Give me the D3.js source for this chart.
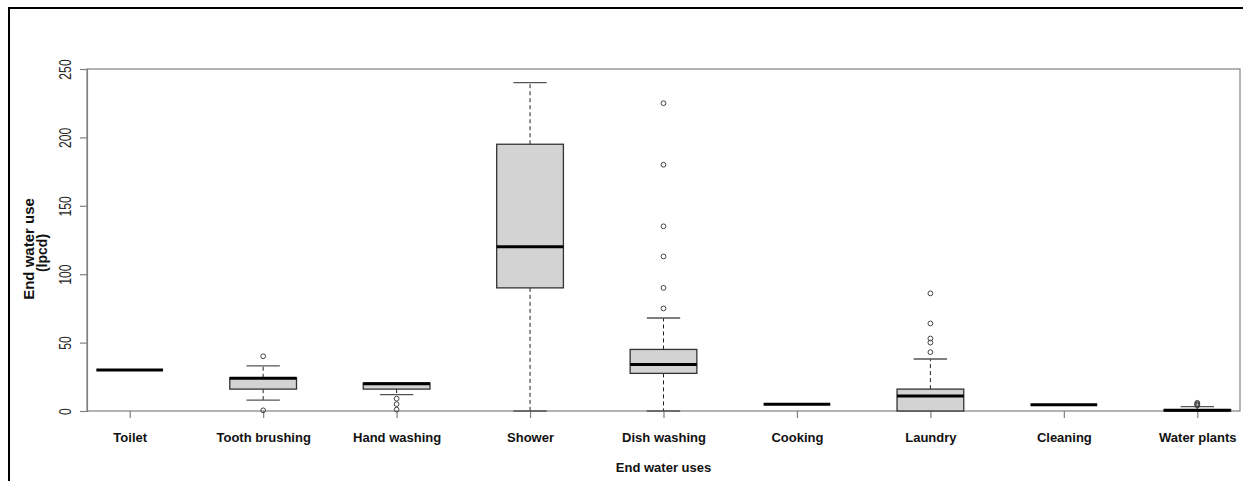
<!DOCTYPE html>
<html>
<head>
<meta charset="utf-8">
<script src="https://cdn.jsdelivr.net/npm/d3@7"></script>
<style>
  html, body { margin: 0; padding: 0; background: #fff; }
  svg { display: block; }
  text { font-family: "Liberation Sans", Arial, sans-serif; }
</style>
</head>
<body>
<svg id="chart" width="1243" height="481"></svg>
<script>
// ---- data ----
const categories = ["Toilet", "Tooth brushing", "Hand washing", "Shower", "Dish washing",
                    "Cooking", "Laundry", "Cleaning", "Water plants"];
const whiskerLow  = [30, 8,   12,   0,   0,    5, 0,  4.5, 0];
const q1          = [30, 16,  16,   90,  27.5, 5, 0,  4.5, 0];
const median      = [30, 24,  20,   120, 34,   5, 11, 4.5, 0.5];
const q3          = [30, 24.3,20.5, 195, 45,   5, 16, 4.5, 1];
const whiskerHigh = [30, 33,  20.5, 240, 68,   5, 38, 4.5, 3.2];
const outliers    = [[], [40, 0.5], [9, 5, 1], [], [75, 90, 113, 135, 180, 225],
                     [], [43, 50, 53, 64, 86], [], [4, 4.6, 5.2, 6]];
const yTicks = [0, 50, 100, 150, 200, 250];

const svg = d3.select("#chart");
const margin = { left: 87, right: 3, top: 69, bottom: 70 };
const W = 1243, H = 481;

const x = d3.scalePoint().domain(categories)
  .range([margin.left, W - margin.right]).padding(0.32);
const y = d3.scaleLinear().domain([0, 250]).range([H - margin.bottom, margin.top]);
const step = x.step();
const boxHalf = step * 0.25;
const capHalf = step * 0.125;

// outer frame (top + left)
svg.append("path")
  .attr("d", `M9,481 L9,8 L1243,8`)
  .attr("fill", "none").attr("stroke", "#000").attr("stroke-width", 2);

// plot box
svg.append("rect")
  .attr("x", x.range()[0]).attr("y", y(250))
  .attr("width", x.range()[1] - x.range()[0]).attr("height", y(0) - y(250))
  .attr("fill", "none").attr("stroke", "#808080").attr("stroke-width", 1.2);

// y axis
const yAxis = svg.append("g").attr("transform", `translate(${x.range()[0]},0)`)
  .call(d3.axisLeft(y).tickValues(yTicks).tickSize(7).tickPadding(0).tickFormat(d3.format("d")));
yAxis.select(".domain").attr("stroke", "#808080").attr("stroke-width", 1.2);
yAxis.selectAll(".tick line").attr("stroke", "#808080").attr("stroke-width", 1.2);
yAxis.selectAll(".tick text")
  .attr("transform", "rotate(-90) scale(0.76,1)")
  .attr("x", 0).attr("y", -16)
  .attr("dy", 0)
  .attr("text-anchor", "middle")
  .attr("fill", "#222")
  .style("font-size", "16px");

// x axis
const xAxis = svg.append("g").attr("transform", `translate(0,${y(0)})`)
  .call(d3.axisBottom(x).tickSize(7).tickPadding(15));
xAxis.select(".domain").remove();
xAxis.selectAll(".tick line").attr("stroke", "#808080").attr("stroke-width", 1.2);
xAxis.selectAll(".tick text")
  .attr("fill", "#111")
  .style("font-size", "13px").style("font-weight", "bold");

// axis titles
svg.append("text")
  .attr("x", (x.range()[0] + x.range()[1]) / 2).attr("y", 472)
  .attr("text-anchor", "middle")
  .style("font-size", "13px").style("font-weight", "bold").attr("fill", "#111")
  .text("End water uses");

const yTitle = svg.append("g").attr("transform", `translate(0,${(y(0) + y(250)) / 2 + 9}) rotate(-90)`);
yTitle.append("text").attr("x", 0).attr("y", 33.5)
  .attr("text-anchor", "middle")
  .style("font-size", "15px").style("font-weight", "bold").attr("fill", "#111")
  .text("End water use");
yTitle.append("text").attr("x", -4).attr("y", 47)
  .attr("text-anchor", "middle")
  .style("font-size", "14px").style("font-weight", "bold").attr("fill", "#111")
  .text("(lpcd)");

// boxes
const data = categories.map((c, i) => ({
  c, lo: whiskerLow[i], q1: q1[i], med: median[i], q3: q3[i], hi: whiskerHigh[i], out: outliers[i]
}));

const g = svg.append("g");
data.forEach(d => {
  const cx = x(d.c);
  if (d.hi > d.q3) {
    g.append("line").attr("x1", cx).attr("x2", cx).attr("y1", y(d.q3)).attr("y2", y(d.hi))
      .attr("stroke", "#222").attr("stroke-width", 1).attr("stroke-dasharray", "4,3");
    g.append("line").attr("x1", cx - capHalf).attr("x2", cx + capHalf).attr("y1", y(d.hi)).attr("y2", y(d.hi))
      .attr("stroke", "#555").attr("stroke-width", 1.3);
  }
  if (d.lo < d.q1) {
    g.append("line").attr("x1", cx).attr("x2", cx).attr("y1", y(d.q1)).attr("y2", y(d.lo))
      .attr("stroke", "#222").attr("stroke-width", 1).attr("stroke-dasharray", "4,3");
    g.append("line").attr("x1", cx - capHalf).attr("x2", cx + capHalf).attr("y1", y(d.lo)).attr("y2", y(d.lo))
      .attr("stroke", "#555").attr("stroke-width", 1.3);
  }
  g.append("rect")
    .attr("x", cx - boxHalf).attr("width", boxHalf * 2)
    .attr("y", y(d.q3)).attr("height", Math.max(0, y(d.q1) - y(d.q3)))
    .attr("fill", "#d3d3d3").attr("stroke", "#333").attr("stroke-width", 1.3);
  g.append("line").attr("x1", cx - boxHalf).attr("x2", cx + boxHalf)
    .attr("y1", y(d.med)).attr("y2", y(d.med))
    .attr("stroke", "#000").attr("stroke-width", 3);
  d.out.forEach(v => {
    g.append("circle").attr("cx", cx).attr("cy", y(v)).attr("r", 2.4)
      .attr("fill", "none").attr("stroke", "#444").attr("stroke-width", 1);
  });
});
</script>
</body>
</html>
